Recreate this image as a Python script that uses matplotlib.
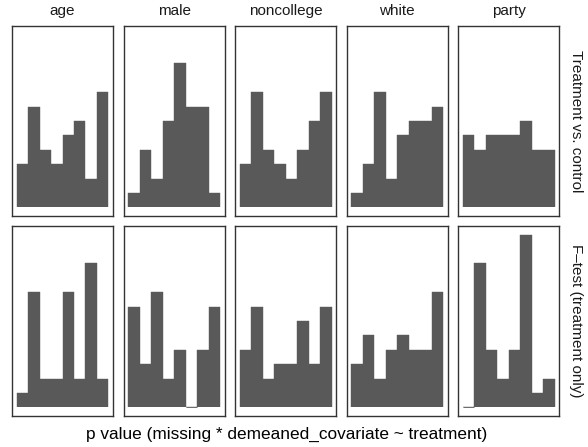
import numpy as np
import matplotlib
matplotlib.use("Agg")
import matplotlib.pyplot as plt

plt.rcParams['font.family'] = ['Liberation Sans', 'DejaVu Sans']

covariates = ['age', 'male', 'noncollege', 'white', 'party']
rows = ['Treatment vs. control', 'F\u2013test (treatment only)']

# counts per p value bin (8 bins on [0, 1])
bin_edges = np.linspace(0, 1, 9)
counts_tvc = {
    'age':        [3, 7, 4, 3, 5, 6, 2, 8],
    'male':       [1, 4, 2, 6, 10, 7, 7, 1],
    'noncollege': [3, 8, 4, 3, 2, 4, 6, 8],
    'white':      [1, 3, 8, 2, 5, 6, 6, 7],
    'party':      [5, 4, 5, 5, 5, 6, 4, 4],
}
counts_f = {
    'age':        [1, 8, 2, 2, 8, 2, 10, 2],
    'male':       [7, 3, 8, 2, 4, 0, 4, 7],
    'noncollege': [4, 7, 2, 3, 3, 6, 3, 7],
    'white':      [3, 5, 2, 4, 5, 4, 4, 8],
    'party':      [0, 10, 4, 2, 4, 12, 1, 2],
}
all_counts = [counts_tvc, counts_f]

W, H = 588, 447
fig = plt.figure(figsize=(W / 100, H / 100), dpi=100)

ymax = max(max(max(v) for v in c.values()) for c in all_counts)
ypad = ymax * 0.05
lefts = [12 + i * 111.6 for i in range(5)]
pw = 101
tops = [26, 226]
ph = 190

for r, counts in enumerate(all_counts):
    for j, cov in enumerate(covariates):
        ax = fig.add_axes([lefts[j] / W, 1 - (tops[r] + ph) / H, pw / W, ph / H])
        ax.stairs(counts[cov], bin_edges, fill=True, color='#595959',
                  edgecolor='#595959', linewidth=0.3)
        # empty bins still leave a hairline on the baseline
        for k, c in enumerate(counts[cov]):
            if c == 0:
                ax.hlines(0, bin_edges[k], bin_edges[k + 1], color='#595959', lw=0.6)
        ax.set_xlim(-0.05, 1.05)
        ax.set_ylim(-ypad, ymax + ypad)
        ax.set_xticks([])
        ax.set_yticks([])
        for s in ax.spines.values():
            s.set_color('#333333')
            s.set_linewidth(1.0)
        if r == 0:
            fig.text((lefts[j] + pw / 2) / W, 1 - 15 / H, cov, ha='center',
                     va='baseline', fontsize=11, color='#1a1a1a')
        if j == 4:
            fig.text(569 / W, 1 - (tops[r] + ph / 2) / H, rows[r], ha='left',
                     va='center', rotation=-90, fontsize=11, color='#1a1a1a')

fig.text((12 + 561) / 2 / W, 1 - 439 / H,
         'p value (missing * demeaned_covariate ~ treatment)',
         ha='center', va='baseline', fontsize=12.4, color='black')

fig.savefig('out.png', dpi=100)
